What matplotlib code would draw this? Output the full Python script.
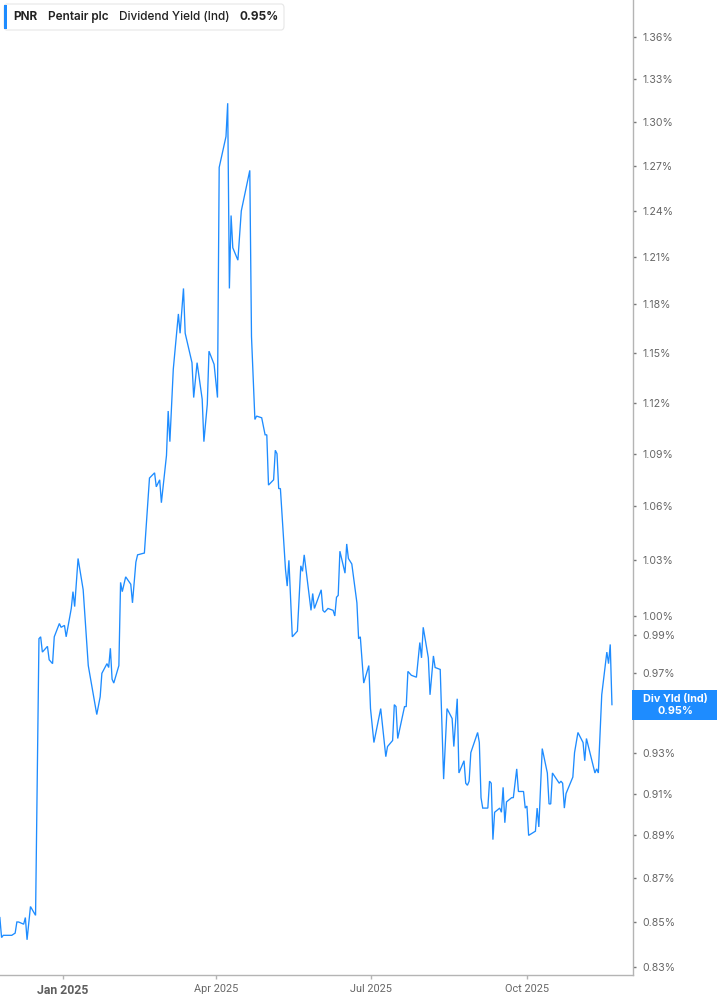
#!/usr/bin/env python3
"""
Dividend yield (indicated) chart for PNR
"""

import pandas as pd
import matplotlib
matplotlib.use("Agg")
import matplotlib.pyplot as plt
from matplotlib.patches import Rectangle, FancyBboxPatch
from matplotlib.ticker import NullLocator

# Data (dividend yield, %)
dates = [
    "2024-11-25", "2024-11-26", "2024-11-27", "2024-12-02", "2024-12-04", "2024-12-05",
    "2024-12-06", "2024-12-09", "2024-12-10", "2024-12-11", "2024-12-13", "2024-12-16",
    "2024-12-18", "2024-12-19", "2024-12-20", "2024-12-23", "2024-12-24", "2024-12-26",
    "2024-12-27", "2024-12-30", "2024-12-31", "2025-01-02", "2025-01-03", "2025-01-06",
    "2025-01-07", "2025-01-08", "2025-01-10", "2025-01-13", "2025-01-16", "2025-01-21",
    "2025-01-23", "2025-01-24", "2025-01-27", "2025-01-28", "2025-01-29", "2025-01-30",
    "2025-01-31", "2025-02-03", "2025-02-04", "2025-02-05", "2025-02-07", "2025-02-10",
    "2025-02-11", "2025-02-13", "2025-02-14", "2025-02-18", "2025-02-19", "2025-02-21",
    "2025-02-24", "2025-02-25", "2025-02-27", "2025-02-28", "2025-03-03", "2025-03-04",
    "2025-03-05", "2025-03-07", "2025-03-10", "2025-03-11", "2025-03-13", "2025-03-14",
    "2025-03-18", "2025-03-19", "2025-03-21", "2025-03-24", "2025-03-25", "2025-03-27",
    "2025-03-28", "2025-03-31", "2025-04-02", "2025-04-03", "2025-04-07", "2025-04-08",
    "2025-04-09", "2025-04-10", "2025-04-11", "2025-04-14", "2025-04-16", "2025-04-21",
    "2025-04-22", "2025-04-24", "2025-04-25", "2025-04-28", "2025-04-30", "2025-05-01",
    "2025-05-02", "2025-05-05", "2025-05-06", "2025-05-07", "2025-05-08", "2025-05-09",
    "2025-05-12", "2025-05-13", "2025-05-14", "2025-05-16", "2025-05-19", "2025-05-21",
    "2025-05-22", "2025-05-23", "2025-05-27", "2025-05-28", "2025-05-29", "2025-06-02",
    "2025-06-03", "2025-06-04", "2025-06-06", "2025-06-09", "2025-06-10", "2025-06-11",
    "2025-06-12", "2025-06-13", "2025-06-16", "2025-06-17", "2025-06-18", "2025-06-20",
    "2025-06-23", "2025-06-24", "2025-06-25", "2025-06-27", "2025-06-30", "2025-07-01",
    "2025-07-03", "2025-07-07", "2025-07-10", "2025-07-11", "2025-07-14", "2025-07-15",
    "2025-07-16", "2025-07-17", "2025-07-21", "2025-07-22", "2025-07-23", "2025-07-25",
    "2025-07-28", "2025-07-30", "2025-07-31", "2025-08-01", "2025-08-04", "2025-08-05",
    "2025-08-07", "2025-08-08", "2025-08-11", "2025-08-13", "2025-08-15", "2025-08-18",
    "2025-08-19", "2025-08-21", "2025-08-22", "2025-08-25", "2025-08-26", "2025-08-27",
    "2025-08-28", "2025-08-29", "2025-09-02", "2025-09-03", "2025-09-04", "2025-09-05",
    "2025-09-08", "2025-09-09", "2025-09-10", "2025-09-11", "2025-09-12", "2025-09-15",
    "2025-09-16", "2025-09-17", "2025-09-18", "2025-09-19", "2025-09-22", "2025-09-23",
    "2025-09-25", "2025-09-26", "2025-09-29", "2025-09-30", "2025-10-01", "2025-10-02",
    "2025-10-06", "2025-10-07", "2025-10-08", "2025-10-10", "2025-10-13", "2025-10-14",
    "2025-10-15", "2025-10-16", "2025-10-20", "2025-10-21", "2025-10-22", "2025-10-23",
    "2025-10-24", "2025-10-28", "2025-10-29", "2025-10-31", "2025-11-03", "2025-11-04",
    "2025-11-05", "2025-11-10", "2025-11-11", "2025-11-12", "2025-11-14", "2025-11-17",
    "2025-11-18", "2025-11-19", "2025-11-20",
]
div_yield = [
    0.852, 0.843, 0.844, 0.844, 0.845, 0.850,
    0.850, 0.849, 0.852, 0.842, 0.857, 0.853,
    0.988, 0.989, 0.981, 0.984, 0.977, 0.975,
    0.989, 0.996, 0.994, 0.995, 0.989, 1.004,
    1.013, 1.005, 1.031, 1.014, 0.974, 0.949,
    0.958, 0.970, 0.975, 0.973, 0.983, 0.967,
    0.965, 0.974, 1.018, 1.013, 1.021, 1.017,
    1.007, 1.029, 1.033, 1.034, 1.048, 1.076,
    1.079, 1.071, 1.075, 1.062, 1.089, 1.115,
    1.097, 1.140, 1.174, 1.162, 1.190, 1.162,
    1.144, 1.123, 1.144, 1.122, 1.097, 1.119,
    1.151, 1.143, 1.123, 1.269, 1.290, 1.313,
    1.190, 1.237, 1.216, 1.208, 1.240, 1.267,
    1.160, 1.110, 1.112, 1.111, 1.101, 1.101,
    1.072, 1.075, 1.092, 1.090, 1.070, 1.070,
    1.025, 1.016, 1.030, 0.989, 0.992, 1.027,
    1.024, 1.033, 1.003, 1.012, 1.004, 1.014,
    1.003, 1.002, 1.004, 1.003, 1.000, 1.010,
    1.011, 1.035, 1.023, 1.039, 1.031, 1.028,
    1.007, 0.988, 0.989, 0.965, 0.974, 0.952,
    0.935, 0.952, 0.928, 0.933, 0.936, 0.954,
    0.953, 0.937, 0.953, 0.953, 0.971, 0.969,
    0.968, 0.986, 0.978, 0.994, 0.978, 0.959,
    0.979, 0.973, 0.972, 0.917, 0.952, 0.947,
    0.933, 0.957, 0.920, 0.926, 0.915, 0.914,
    0.916, 0.930, 0.940, 0.935, 0.908, 0.903,
    0.903, 0.916, 0.915, 0.888, 0.901, 0.903,
    0.901, 0.913, 0.896, 0.906, 0.908, 0.908,
    0.922, 0.911, 0.911, 0.903, 0.904, 0.890,
    0.892, 0.903, 0.894, 0.932, 0.920, 0.905,
    0.905, 0.920, 0.915, 0.916, 0.915, 0.903,
    0.910, 0.918, 0.930, 0.940, 0.935, 0.926,
    0.937, 0.920, 0.922, 0.920, 0.959, 0.981,
    0.975, 0.985, 0.954,
]

y_ticks = [1.36, 1.33, 1.30, 1.27, 1.24, 1.21, 1.18, 1.15, 1.12, 1.09, 1.06,
           1.03, 1.00, 0.99, 0.97, 0.95, 0.93, 0.91, 0.89, 0.87, 0.85, 0.83]
x_ticks = ["2025-01-01", "2025-04-01", "2025-07-01", "2025-10-01"]
x_tick_labels = ["Jan 2025", "Apr 2025", "Jul 2025", "Oct 2025"]

ticker = "PNR"
company = "Pentair plc"
metric = "Dividend Yield (Ind)"
badge_name = "Div Yld (Ind)"

BLUE = "#1e8cff"
GRID_GRAY = "#b4b4b4"
TEXT_GRAY = "#666666"
FONT = ["Inter", "DejaVu Sans"]


def main():
    df = pd.DataFrame({"date": pd.to_datetime(dates), "value": div_yield})
    last_val = df["value"].iloc[-1]

    W, H = 717, 1005
    fig = plt.figure(figsize=(W / 100, H / 100), dpi=100)
    fig.patch.set_facecolor("white")
    ax = fig.add_axes([0, 1 - 975 / H, 632.7 / W, 975 / H])

    ax.plot(df["date"], df["value"], color=BLUE, linewidth=0.95, solid_joinstyle="miter")

    ax.set_yscale("log")
    ax.set_ylim(0.8264, 1.387)
    ax.set_xlim(pd.Timestamp("2024-11-25 02:00"), pd.Timestamp("2025-12-02 05:00"))

    # Spines: only bottom and right
    for side in ["top", "left"]:
        ax.spines[side].set_visible(False)
    for side in ["bottom", "right"]:
        ax.spines[side].set_color(GRID_GRAY)
        ax.spines[side].set_linewidth(1.0)

    # Y axis on the right; the label under the badge is hidden by it anyway
    ax.yaxis.tick_right()
    ax.yaxis.set_minor_locator(NullLocator())
    ax.set_yticks(y_ticks)
    ax.set_yticklabels(["" if abs(v - last_val) < 0.006 else f"{v:.2f}%" for v in y_ticks])
    ax.tick_params(axis="y", which="major", direction="out", length=2, width=1,
                   color="#777777", pad=5, labelsize=7.6, labelcolor=TEXT_GRAY)
    for lab in ax.get_yticklabels():
        lab.set_family(FONT)

    # X axis ticks
    ax.xaxis.set_minor_locator(NullLocator())
    ax.set_xticks(pd.to_datetime(x_ticks))
    ax.set_xticklabels(x_tick_labels)
    ax.tick_params(axis="x", which="major", direction="out", length=3, width=1,
                   color=GRID_GRAY, pad=3.5, labelsize=7.8, labelcolor=TEXT_GRAY)
    for lab in ax.get_xticklabels():
        lab.set_family(["Roboto", "DejaVu Sans"])
        if lab.get_text().startswith("Jan"):
            lab.set_fontweight("bold")
            lab.set_fontsize(8.8)
            lab.set_color("#5f5f5f")

    # Header box
    fx = lambda px: px / W
    fy = lambda py: 1 - py / H
    header = FancyBboxPatch((fx(4), fy(30)), fx(280), 26 / H,
                            boxstyle="round,pad=0,rounding_size=0.004",
                            transform=fig.transFigure, facecolor="white",
                            edgecolor="#e6e6e6", linewidth=0.8, zorder=5)
    fig.patches.append(header)
    fig.patches.append(Rectangle((fx(4), fy(29)), fx(3), 24 / H, transform=fig.transFigure,
                                 facecolor=BLUE, edgecolor="none", zorder=6))

    renderer = fig.canvas.get_renderer()
    pieces = [(ticker, "bold"), (company, "semibold"), (metric, "medium"),
              (f"{last_val:.2f}%", "bold")]
    x_px = 13
    for txt, weight in pieces:
        t = fig.text(fx(x_px), fy(17), txt, fontsize=8.5, fontweight=weight,
                     color="#222222", family=FONT, va="center", zorder=7)
        ext = t.get_window_extent(renderer)
        x_px = ext.x1 + 10.5

    # Last value badge on the right axis
    xnum = ax.get_xlim()[1]
    ydisp = ax.transData.transform((xnum, last_val))[1]
    ycen = ydisp / H
    badge = Rectangle((fx(632), ycen - 15 / H), 1 - fx(632), 30 / H,
                      transform=fig.transFigure, facecolor=BLUE, edgecolor="none", zorder=5)
    fig.patches.append(badge)
    fig.text(fx(675), ycen + 5.5 / H, badge_name, fontsize=7.8, fontweight="bold",
             color="white", family=FONT, ha="center", va="center", zorder=7)
    fig.text(fx(675), ycen - 6 / H, f"{last_val:.2f}%", fontsize=7.8, fontweight="bold",
             color="white", family=FONT, ha="center", va="center", zorder=7)

    fig.savefig("out.png", dpi=100, facecolor="white")
    plt.close(fig)


if __name__ == "__main__":
    main()
